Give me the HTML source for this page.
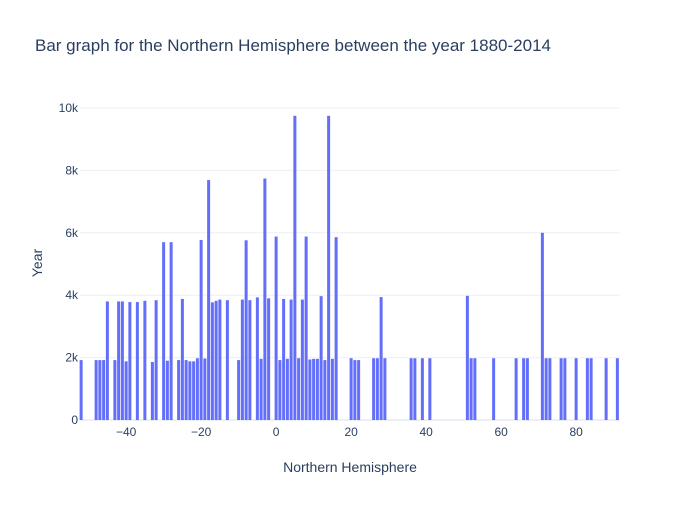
<!DOCTYPE html>
<html><head><meta charset="utf-8"><style>
body{margin:0;background:#fff;}
svg text{font-family:"Liberation Sans",sans-serif;fill:#2a3f5f;}
</style></head><body>
<svg id="chart" width="700" height="500" xmlns="http://www.w3.org/2000/svg">
<rect width="700" height="500" fill="#fff"/>
<text x="35" y="51" font-size="17">Bar graph for the Northern Hemisphere between the year 1880-2014</text>
<g id="grid"></g>
<g id="bars"></g>
<g id="ticks"></g>
<text x="350" y="472" font-size="14" text-anchor="middle">Northern Hemisphere</text>
<text x="0" y="0" font-size="14" text-anchor="middle" transform="translate(42,263) rotate(-90)">Year</text>
</svg>
<script>
const categories=[-52,-48,-47,-46,-45,-43,-42,-41,-40,-39,-37,-35,-33,-32,-30,-29,-28,-26,-25,-24,-23,-22,-21,-20,-19,-18,-17,-16,-15,-13,-10,-9,-8,-7,-5,-4,-3,-2,0,1,2,3,4,5,6,7,8,9,10,11,12,13,14,15,16,20,21,22,26,27,28,29,36,37,39,41,51,52,53,58,64,66,67,71,72,73,76,77,80,83,84,88,91];
const values=[1920,1920,1920,1920,3800,1920,3800,3800,1880,3780,3780,3820,1860,3840,5700,1900,5700,1920,3880,1920,1880,1880,1980,5770,1970,7690,3770,3820,3860,3840,1920,3860,5760,3840,3930,1960,7740,3900,5880,1920,3880,1960,3860,9750,1980,3860,5880,1940,1960,1960,3970,1920,9750,1960,5860,1980,1920,1920,1980,1980,3940,1980,1980,1980,1980,1980,3980,1980,1980,1980,1980,1980,1980,6000,1980,1980,1980,1980,1980,1980,1980,1980,1980];
const yTicks=[0,2000,4000,6000,8000,10000];
const yTickLabels=["0","2k","4k","6k","8k","10k"];
const xTicks=[-40,-20,0,20,40,60,80];
const xTickLabels=["−40","−20","0","20","40","60","80"];
const NS="http://www.w3.org/2000/svg";
const L=80,R=620,T=60,B=420;
const xMin=-52.3,xMax=91.7,yMax=10000,y10=108;
function xs(v){return L+(v-xMin)/(xMax-xMin)*(R-L);}
function ys(v){return B-(v/yMax)*(B-y10);}
function mk(tag,attrs,parent){const e=document.createElementNS(NS,tag);for(const k in attrs)e.setAttribute(k,attrs[k]);parent.appendChild(e);return e;}
const grid=document.getElementById('grid'),bars=document.getElementById('bars'),ticks=document.getElementById('ticks');
yTicks.forEach((t,i)=>{
  const ln=mk('line',{x1:L,x2:R,y1:ys(t),y2:ys(t),stroke:t===0?'#ebf0f8':'#ebf0f8','stroke-width':t===0?2:1},grid);
  
  
  const tx=mk('text',{x:L-2,y:ys(t)+4,'font-size':12,'text-anchor':'end'},ticks);
  tx.textContent=yTickLabels[i];
  
  
});
xTicks.forEach((t,i)=>{
  const tx=mk('text',{x:xs(t),y:B+16,'font-size':12,'text-anchor':'middle'},ticks);
  tx.textContent=xTickLabels[i];
  
  
});
const unit=(R-L)/(xMax-xMin),bw=unit*0.8;
categories.forEach((c,i)=>{
  const r=mk('rect',{x:xs(c)-bw/2,y:ys(values[i]),width:bw,height:B-ys(values[i]),fill:'#636efa'},bars);
  
  
});
</script>
</body></html>
